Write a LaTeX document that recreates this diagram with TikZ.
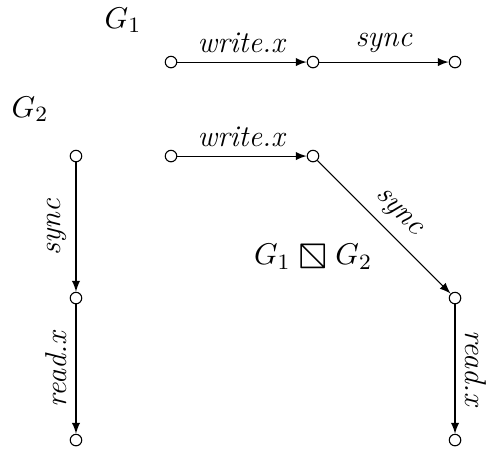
\documentclass[tikz,border=0pt]{standalone}
\usepackage{stmaryrd}
\begin{document}
\begin{tikzpicture}
         [node distance=1.822cm, every node/.style={font=\fontsize{11}{13}\selectfont},
          state/.style={circle,draw,fill=white,inner sep=0pt,minimum size=4.2pt}]
         \useasboundingbox (-2.194,0.796) rectangle (4.067,-5.042);
         % G1
         \node[state] (a1) at (0,0) {};
         \node[state, right of=a1] (a2) {};
         \node[state, right of=a2] (a3) {};
         \node (g1) at (-0.616,0.539) {$G_1$};
         
         % G2
         \node[state] (b1) at (-1.219,-1.206) {};
         \node[state, below of=b1] (b2) {};
         \node[state, below of=b2] (b3) {};
         \node (g2) at (-1.809,-0.603) {$G_2$};
         
         % product
         \node[state] (c1) at (0,-1.206) {};
         \node[state, right of=c1] (c2) {};
         \node[state, below of=c2, xshift=1.822cm] (c3) {};
         \node[state, below of=c3] (c4) {};
         \node (prod) at (1.822,-2.489) {$G_1 \mathbin{\raisebox{-0.1ex}{\scalebox{1.35}{$\boxbslash$}}} G_2$};
         
         \draw[-latex] (a1) -- node[above] {\textit{write.x}} (a2);
         \draw[-latex] (a2) -- node[above] {\textit{sync}} (a3);
         
         \draw[-latex] (b1) -- node[above, rotate=90] {\textit{sync}} (b2);
         \draw[-latex] (b2) -- node[above, rotate=90] {\textit{read.x}} (b3);
         
         \draw[-latex] (c1) -- node[above] {\textit{write.x}} (c2);
         \draw[-latex] (c2) -- node[above, sloped] {\textit{sync}} (c3);
         \draw[-latex] (c3) -- node[above, sloped] {\textit{read.x}} (c4);
      \end{tikzpicture}
\end{document}
